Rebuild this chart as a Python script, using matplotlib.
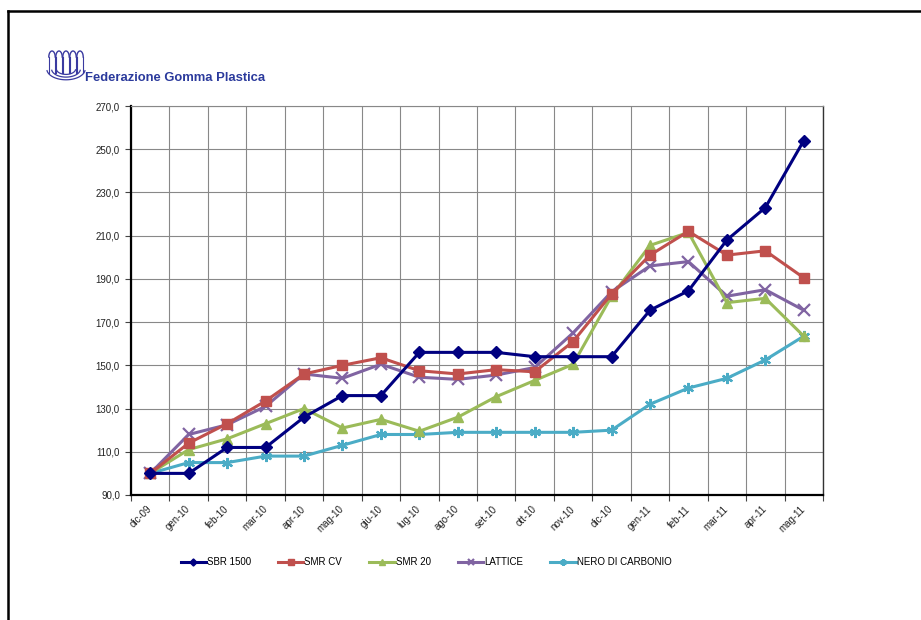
import matplotlib
matplotlib.use("Agg")
import matplotlib.pyplot as plt
import numpy as np
from matplotlib.lines import Line2D

plt.rcParams['font.family'] = ['Liberation Sans', 'DejaVu Sans']

categories = ["dic-09", "gen-10", "feb-10", "mar-10", "apr-10", "mag-10", "giu-10",
              "lug-10", "ago-10", "set-10", "ott-10", "nov-10", "dic-10", "gen-11",
              "feb-11", "mar-11", "apr-11", "mag-11"]

sbr_1500 = [100, 100, 112, 112, 126, 136, 136, 156, 156, 156, 154, 154, 154, 175.5, 184.5, 208, 223, 254]
smr_cv = [100, 114, 123, 133.5, 146, 150, 153.5, 147.5, 146, 148, 147, 161, 183, 201, 212, 201, 203, 190.5]
smr_20 = [100, 111, 116, 123, 130, 121, 125, 119.5, 126, 135.5, 143, 150.5, 182, 205.5, 211.5, 179, 181, 163.5]
lattice = [100, 118, 122.5, 131, 146, 144, 150.5, 144.5, 143.5, 145.5, 149, 165, 184, 196, 198, 182, 185, 175.5]
nero = [100, 105, 105, 108, 108, 113, 118, 118, 119, 119, 119, 119, 120, 132, 139.5, 144, 152.5, 163.5]

series_names = ["SBR 1500", "SMR CV", "SMR 20", "LATTICE", "NERO DI CARBONIO"]
yticks = [90, 110, 130, 150, 170, 190, 210, 230, 250, 270]

colors = ["#000080", "#C0504D", "#9BBB59", "#8064A2", "#4BACC6"]
markers = ["D", "s", "^", "x", (6, 2, 0)]
msizes = [6, 7, 7, 8, 8]

fig = plt.figure(figsize=(9.21, 6.2), dpi=100)
W, H = 921, 620

# page border (top and left)
fig.add_artist(Line2D([8 / W, 1.0], [1 - 10.5 / H, 1 - 10.5 / H], color="black", lw=1.8))
fig.add_artist(Line2D([8 / W, 8 / W], [1 - 10.5 / H, 0], color="black", lw=1.8))

# logo (stylized)
lax = fig.add_axes([44 / W, 1 - 83 / H, 44 / W, 38 / H])
lax.set_xlim(0, 44)
lax.set_ylim(0, 38)
lax.axis("off")
lc = "#3a3aa0"
for cx in [8, 15, 22, 29, 36]:
    t = np.linspace(0, np.pi, 30)
    lax.plot(cx + 3.2 * np.cos(t), 26 + 6 * np.sin(t), color=lc, lw=1.0)
    lax.plot([cx - 3.2, cx - 3.2], [26, 10], color=lc, lw=0.8)
    lax.plot([cx + 3.2, cx + 3.2], [26, 10], color=lc, lw=0.8)
for r in [6, 9, 12]:
    t = np.linspace(np.pi * 1.05, np.pi * 1.95, 30)
    lax.plot(22 + r * 1.6 * np.cos(t), 14 + r * 0.9 * np.sin(t), color=lc, lw=0.9)

fig.text(85 / W, 1 - 78 / H, "Federazione Gomma Plastica", fontsize=9.4,
         fontweight="bold", color="#2B3A9C", va="center", ha="left")

ax = fig.add_axes([131 / W, 1 - 495 / H, 692 / W, 389 / H])
x = np.arange(len(categories))
data = [sbr_1500, smr_cv, smr_20, lattice, nero]
handles = []
for i, (vals, name) in enumerate(zip(data, series_names)):
    h, = ax.plot(x, vals, color=colors[i], lw=2.2, marker=markers[i], markersize=msizes[i],
                 markeredgewidth=1.6 if i >= 3 else 1.0, markeredgecolor=colors[i],
                 markerfacecolor=colors[i], label=name, zorder=3 + (4 - i) * 0.1)
    handles.append(h)

ax.set_xlim(-0.5, len(categories) - 0.5)
ax.set_ylim(90, 270)
ax.set_yticks(yticks)
ax.set_yticklabels([f"{v:.1f}".replace(".", ",") for v in yticks], fontsize=7, color="#222222")
ax.set_xticks(x)
ax.set_xticklabels(categories, rotation=45, ha="right", va="center",
                   rotation_mode="anchor", fontsize=7, color="#222222")
ax.tick_params(axis="x", which="major", length=0, pad=9)
ax.set_xticks(np.arange(-0.5, len(categories)), minor=True)
ax.tick_params(axis="x", which="minor", length=4, width=0.8, color="#444444")
ax.tick_params(axis="y", length=4, width=0.8, color="#444444", pad=4)
ax.grid(True, axis="y", which="major", color="#888888", lw=0.8)
ax.grid(True, axis="x", which="minor", color="#888888", lw=0.8)
ax.set_axisbelow(True)
for s in ["left", "bottom"]:
    ax.spines[s].set_linewidth(1.6)
    ax.spines[s].set_color("black")
ax.spines["right"].set_linewidth(1.0)
ax.spines["right"].set_color("#333333")
ax.spines["top"].set_linewidth(0.8)
ax.spines["top"].set_color("#888888")

fig.legend(handles=handles, labels=series_names, loc="center", ncol=5,
           bbox_to_anchor=(426 / W, 1 - 562 / H), frameon=False, fontsize=7,
           handlelength=2.6, handletextpad=0.1, columnspacing=2.8, markerscale=0.6)

fig.savefig("out.png", dpi=100, facecolor="white")
